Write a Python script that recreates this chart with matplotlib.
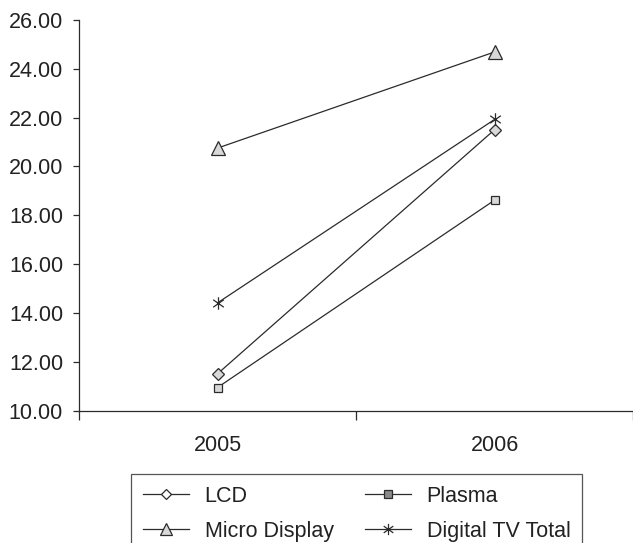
import matplotlib
matplotlib.use("Agg")
import matplotlib.pyplot as plt
from matplotlib.lines import Line2D
from matplotlib.path import Path

categories = ["2005", "2006"]
series_names = ["LCD", "Plasma", "Micro Display", "Digital TV Total"]
lcd = [11.52, 21.50]
plasma = [10.96, 18.62]
micro = [20.75, 24.68]
digital_total = [14.42, 21.92]
y_ticks = [10, 12, 14, 16, 18, 20, 22, 24, 26]

plt.rcParams['font.family'] = ['Liberation Sans', 'DejaVu Sans']

asterisk = Path([(0, -1), (0, 1), (-0.85, -0.6), (0.85, 0.6), (-0.85, 0.6), (0.85, -0.6)],
                [Path.MOVETO, Path.LINETO, Path.MOVETO, Path.LINETO, Path.MOVETO, Path.LINETO])

fig = plt.figure(figsize=(6.33, 5.43), dpi=100)
ax = fig.add_axes([79/633, 1 - 411/543, 554/633, (411 - 19.7)/543])

line_col = '#2b2b2b'
fill = '#d8d8d8'
x = [1, 2]
styles = {
    "LCD": dict(marker='D', ms=6.2, mfc=fill),
    "Plasma": dict(marker='s', ms=6.3, mfc=fill),
    "Micro Display": dict(marker='^', ms=9.5, mfc=fill),
    "Digital TV Total": dict(marker=asterisk, ms=9, mfc='none'),
}
data = {"LCD": lcd, "Plasma": plasma, "Micro Display": micro, "Digital TV Total": digital_total}
for name in series_names:
    st = styles[name]
    ax.plot(x, data[name], color=line_col, lw=0.9, marker=st['marker'], ms=st['ms'],
            mfc=st['mfc'], mec=line_col, mew=0.9, clip_on=False, zorder=3)

ax.set_xlim(0.5, 2.5)
ax.set_ylim(10, 26)
ax.set_yticks(y_ticks)
ax.set_yticklabels([f"{v:.2f}" for v in y_ticks])
ax.set_xticks([0.5, 1.5, 2.5])
ax.set_xticklabels([])
ax.set_xticks(x, minor=True)
ax.set_xticklabels(categories, minor=True)
ax.tick_params(axis='x', which='minor', length=0, pad=17, labelsize=15.5, colors='#222222')
ax.tick_params(axis='x', which='major', length=6.5, width=0.9, direction='out', color=line_col)
ax.tick_params(axis='y', length=4.5, width=0.9, pad=7, labelsize=15.5, colors='#222222', color=line_col)
for s in ['top', 'right']:
    ax.spines[s].set_visible(False)
for s in ['left', 'bottom']:
    ax.spines[s].set_color(line_col)
    ax.spines[s].set_linewidth(0.9)

# legend
legend_fill = {"LCD": 'white', "Plasma": '#8a8a8a', "Micro Display": fill, "Digital TV Total": 'none'}
order = ["LCD", "Micro Display", "Plasma", "Digital TV Total"]
handles = []
for name in order:
    st = styles[name]
    handles.append(Line2D([], [], color=line_col, lw=0.9, marker=st['marker'],
                          ms=st['ms'] * 0.9, mfc=legend_fill[name], mec=line_col, mew=0.9))
leg = fig.legend(handles, order, loc='upper left', bbox_to_anchor=(131/633, 1 - 474/543),
                 ncol=2, fontsize=15.5, frameon=True, fancybox=False, edgecolor=line_col,
                 handlelength=2.15, handletextpad=0.72, columnspacing=1.45, borderpad=0.55,
                 labelspacing=0.64, borderaxespad=0)
leg.get_frame().set_linewidth(0.9)
for t in leg.get_texts():
    t.set_color('#222222')

fig.savefig("out.png", dpi=100)
